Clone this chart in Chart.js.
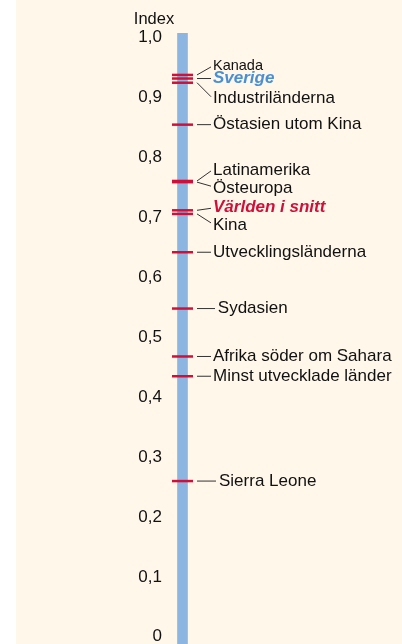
<!DOCTYPE html>
<html lang="sv">
<head>
<meta charset="utf-8">
<script src="https://cdn.jsdelivr.net/npm/chart.js@4"></script>
<style>
  body { margin: 0; background: #fff; }
  #wrap { width: 402px; height: 644px; }
</style>
</head>
<body>
<div id="wrap"><canvas id="myChart"></canvas></div>
<script>
// Data
const regioner = [
  "Kanada", "Sverige", "Industriländerna", "Östasien utom Kina",
  "Latinamerika", "Östeuropa", "Världen i snitt", "Kina",
  "Utvecklingsländerna", "Sydasien", "Afrika söder om Sahara",
  "Minst utvecklade länder", "Sierra Leone"
];
const indexVarden = [
  0.938, 0.932, 0.925, 0.855,
  0.761, 0.759, 0.712, 0.706,
  0.642, 0.548, 0.468,
  0.435, 0.260
];
const tickVarden = [0, 0.1, 0.2, 0.3, 0.4, 0.5, 0.6, 0.7, 0.8, 0.9, 1.0];
const tickEtiketter = ["0", "0,1", "0,2", "0,3", "0,4", "0,5", "0,6", "0,7", "0,8", "0,9", "1,0"];
const stapelFran = -0.012;
const stapelTill = 1.008;

// Utseende
const BLA = "#8db5e2";
const ROD = "#d0103a";
const KRAM = "#fef7ea";
const FONT = "'Liberation Sans', Arial, sans-serif";

// Etiketternas placering (forskjutning i px fran markeringen)
const etikettDy = [-9, 0, 16, 0, -11, 6, -3, 11, 0, 0, 0, 0, 0];
const etikettIndrag = [0, 0, 0, 0, 0, 0, 0, 0, 0, 4, 0, 0, 5];

const bakgrund = {
  id: "bakgrund",
  beforeDraw: (chart) => {
    const ctx = chart.ctx;
    ctx.save();
    ctx.fillStyle = "#fff";
    ctx.fillRect(0, 0, chart.width, chart.height);
    ctx.fillStyle = KRAM;
    ctx.fillRect(16, 0, chart.width - 16, chart.height);
    ctx.restore();
  },
};

const etiketter = {
  id: "etiketter",
  afterDatasetsDraw: (chart) => {
    const ctx = chart.ctx;
    const meta = chart.getDatasetMeta(1);
    const area = chart.chartArea;
    const cx = (area.left + area.right) / 2;
    ctx.save();

    // rubrik
    ctx.fillStyle = "#111";
    ctx.font = `16.5px ${FONT}`;
    ctx.textAlign = "center";
    ctx.textBaseline = "middle";
    ctx.fillText("Index", 154, 19);

    meta.data.forEach((pt, i) => {
      const y = pt.y;
      const ly = y + etikettDy[i];
      const x0 = cx + 14.5;
      const x1 = cx + 28.5 + etikettIndrag[i];
      ctx.strokeStyle = "#333";
      ctx.lineWidth = 1;
      ctx.beginPath();
      ctx.moveTo(x0, y);
      ctx.lineTo(x1, ly - (etikettDy[i] > 0 ? 2 : etikettDy[i] < 0 ? -1 : 0));
      ctx.stroke();

      let font = `17px ${FONT}`;
      let color = "#111";
      if (i === 0) font = `14.5px ${FONT}`;
      if (i === 1) { font = `italic bold 17px ${FONT}`; color = "#4a8fd6"; }
      if (i === 6) { font = `italic bold 17px ${FONT}`; color = ROD; }
      ctx.font = font;
      ctx.fillStyle = color;
      ctx.textAlign = "left";
      ctx.textBaseline = "middle";
      ctx.fillText(regioner[i], x1 + 2 + etikettIndrag[i] * 0.2, ly);
    });
    ctx.restore();
  },
};

const ctx = document.getElementById("myChart").getContext("2d");

const chart = new Chart(ctx, {
  type: "bar",
  data: {
    datasets: [
      {
        label: "Skala",
        data: [{ x: 0.5, y: [stapelFran, stapelTill] }],
        backgroundColor: BLA,
        borderWidth: 0,
        barThickness: 10,
        order: 2,
      },
      {
        type: "scatter",
        label: "Index",
        data: indexVarden.map((v) => ({ x: 0.5, y: v })),
        pointStyle: "line",
        radius: 13,
        hoverRadius: 13,
        borderColor: ROD,
        backgroundColor: ROD,
        borderWidth: 2.5,
        order: 1,
      },
    ],
  },
  options: {
    responsive: true,
    maintainAspectRatio: false,
    animation: false,
    layout: { autoPadding: false, padding: { top: 33, right: 209, bottom: 0, left: 0 } },
    plugins: {
      legend: { display: false },
      tooltip: { enabled: false },
    },
    scales: {
      x: { type: "linear", min: 0, max: 1, display: false },
      y: {
        min: stapelFran,
        max: stapelTill,
        grid: { display: false },
        border: { display: false },
        afterBuildTicks: (scale) => {
          scale.ticks = tickVarden.map((v) => ({ value: v }));
        },
        afterFit: (scale) => {
          scale.width = 172;
          scale.paddingTop = 0;
          scale.paddingBottom = 0;
        },
        ticks: {
          padding: 2,
          color: "#111",
          font: { family: FONT, size: 17 },
          callback: (v, i) => tickEtiketter[i],
        },
      },
    },
  },
  plugins: [bakgrund, etiketter],
});
</script>
</body>
</html>
